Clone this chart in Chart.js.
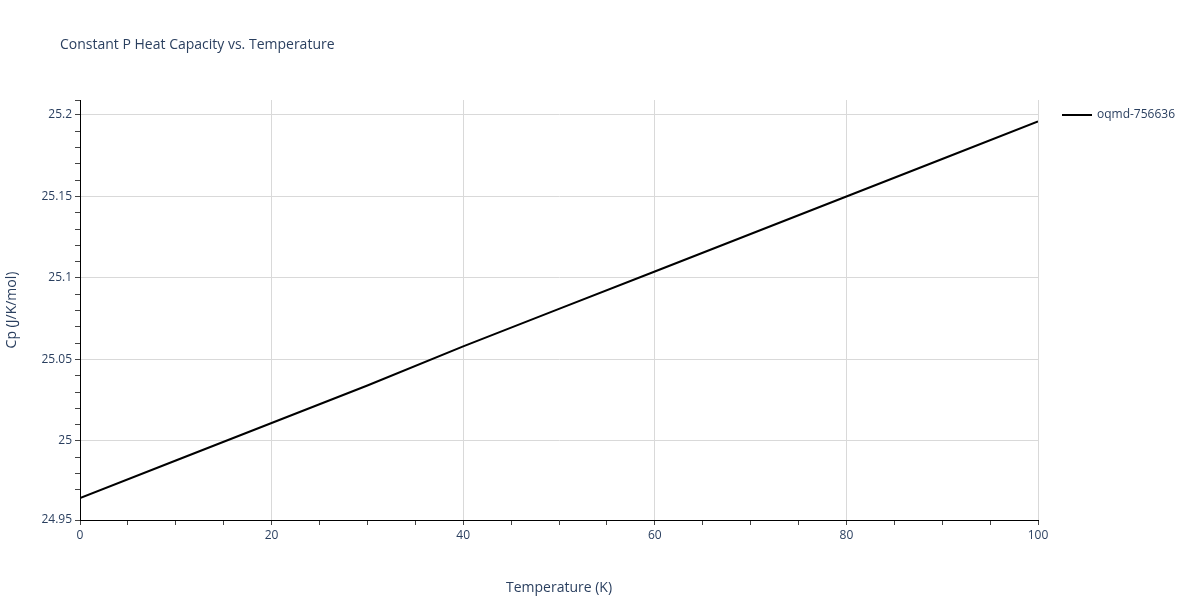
<!DOCTYPE html>
<html>
<head>
<meta charset="utf-8">
<script src="https://cdn.jsdelivr.net/npm/chart.js@4"></script>
<style>
  body { margin: 0; background: #fff; }
  #wrap { width: 1200px; height: 600px; }
</style>
</head>
<body>
<div id="wrap"><canvas id="chart"></canvas></div>
<script>
// данные
const temperatures = [0, 10, 20, 30, 40, 50, 60, 70, 80, 90, 100];
const heatCapacity = [24.965, 24.988, 25.011, 25.034, 25.058, 25.081, 25.104, 25.127, 25.150, 25.173, 25.196];
const seriesName = 'oqmd-756636';
const chartTitle = 'Constant P Heat Capacity vs. Temperature';

const textColor = '#2a3f5f';
const fontFamily = '"Open Sans", sans-serif';

const points = temperatures.map((t, i) => ({ x: t, y: heatCapacity[i] }));

// заголовок и легенда рисуем сами
const overlayPlugin = {
  id: 'overlay',
  afterDraw: (chart) => {
    const ctx = chart.ctx;
    ctx.save();
    ctx.fillStyle = textColor;
    ctx.textBaseline = 'middle';
    ctx.font = `14px ${fontFamily}`;
    ctx.fillText(chartTitle, 60, 45);

    ctx.strokeStyle = '#000';
    ctx.lineWidth = 2;
    ctx.beginPath();
    ctx.moveTo(1062, 115);
    ctx.lineTo(1092, 115);
    ctx.stroke();
    ctx.font = `12px ${fontFamily}`;
    ctx.fillText(seriesName, 1097, 115);
    ctx.restore();
  },
};

new Chart(document.getElementById('chart'), {
  type: 'line',
  data: {
    datasets: [{
      label: seriesName,
      data: points,
      borderColor: '#000',
      borderWidth: 2,
      pointRadius: 0,
      tension: 0,
    }],
  },
  options: {
    responsive: true,
    maintainAspectRatio: false,
    animation: false,
    layout: { padding: { left: 0, top: 100, right: 162, bottom: 0 } },
    plugins: {
      legend: { display: false },
      title: { display: false },
      tooltip: { enabled: false },
    },
    scales: {
      x: {
        type: 'linear',
        min: 0,
        max: 100,
        afterFit: (scale) => { scale.height = 80; },
        border: { color: '#000', width: 1 },
        grid: {
          color: (c) => (c.tick && c.tick.value % 20 === 0 && c.tick.value !== 0 ? '#d9d9d9' : 'rgba(0,0,0,0)'),
          tickColor: '#444',
          tickLength: 5,
          drawOnChartArea: true,
        },
        ticks: {
          stepSize: 5,
          autoSkip: false,
          maxRotation: 0,
          color: textColor,
          font: { family: fontFamily, size: 12 },
          callback: (v) => (v % 20 === 0 ? v : ''),
        },
        title: {
          display: true,
          text: 'Temperature (K)',
          color: textColor,
          font: { family: fontFamily, size: 14 },
          padding: { top: 10 },
        },
      },
      y: {
        min: 24.9515,
        max: 25.2092,
        afterFit: (scale) => { scale.width = 80; },
        border: { color: '#000', width: 1 },
        grid: {
          color: (c) => (c.tick && Math.round(c.tick.value * 100) % 5 === 0 ? '#d9d9d9' : 'rgba(0,0,0,0)'),
          tickColor: '#444',
          tickLength: 5,
        },
        ticks: {
          stepSize: 0.01,
          autoSkip: false,
          color: textColor,
          font: { family: fontFamily, size: 12 },
          callback: (v) => (Math.round(v * 100) % 5 === 0 ? String(Math.round(v * 100) / 100) : ''),
        },
        title: {
          display: true,
          text: 'Cp (J/K/mol)',
          color: textColor,
          font: { family: fontFamily, size: 14 },
          padding: { bottom: 4 },
        },
      },
    },
  },
  plugins: [overlayPlugin],
});
</script>
</body>
</html>
